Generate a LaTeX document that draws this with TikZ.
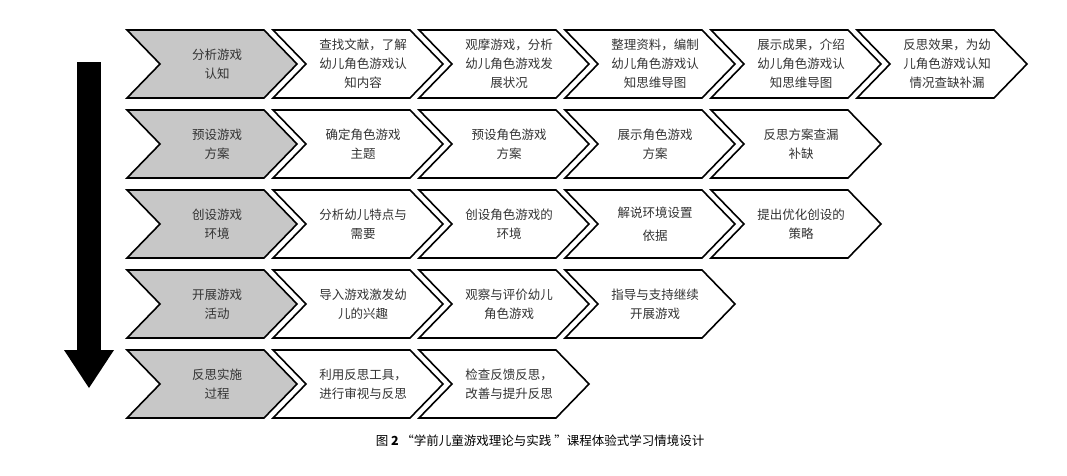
\documentclass[tikz,border=0pt]{standalone}
\usepackage{fontspec}
\setmainfont{Noto Sans CJK SC}
\newfontfamily\capfont{Noto Sans CJK SC}
\tikzset{
  chev/.style={draw=black,line width=1.6pt,line join=miter},
  chevtext/.style={align=center,font=\fontsize{12.5pt}{19pt}\selectfont,text=black!80}
}
% #1 name, #2 left x, #3 top y, #4 fill, #5 text
\newcommand{\chevron}[5]{%
  \filldraw [chev,fill=#4] (#2,#3) -- ++(137,0) -- ++(33,34) -- ++(-33,34) -- ++(-137,0) -- ++(33,-34) -- cycle;
  \node [chevtext] (#1) at (#2+90,#3+34) {#5};
}
\begin{document}
\begin{tikzpicture}[x=1pt,y=-1pt]
\useasboundingbox (0,0) rectangle (1067,476);

% left arrow
\fill [black] (77,62) rectangle (101,352);
\fill [black] (64,350) -- (114,350) -- (89,388) -- cycle;

\chevron{a0}{127}{30}{black!22}{分析游戏\\认知}
\chevron{a1}{273}{30}{white}{查找文献，了解\\幼儿角色游戏认\\知内容}
\chevron{a2}{419}{30}{white}{观摩游戏，分析\\幼儿角色游戏发\\展状况}
\chevron{a3}{565}{30}{white}{整理资料，编制\\幼儿角色游戏认\\知思维导图}
\chevron{a4}{711}{30}{white}{展示成果，介绍\\幼儿角色游戏认\\知思维导图}
\chevron{a5}{857}{30}{white}{反思效果，为幼\\儿角色游戏认知\\情况查缺补漏}

\chevron{b0}{127}{110}{black!22}{预设游戏\\方案}
\chevron{b1}{273}{110}{white}{确定角色游戏\\主题}
\chevron{b2}{419}{110}{white}{预设角色游戏\\方案}
\chevron{b3}{565}{110}{white}{展示角色游戏\\方案}
\chevron{b4}{711}{110}{white}{反思方案查漏\\补缺}

\chevron{c0}{127}{190}{black!22}{创设游戏\\环境}
\chevron{c1}{273}{190}{white}{分析幼儿特点与\\需要}
\chevron{c2}{419}{190}{white}{创设角色游戏的\\环境}
\chevron{c3}{565}{190}{white}{解说环境设置\\[4pt]依据}
\chevron{c4}{711}{190}{white}{提出优化创设的\\策略}

\chevron{d0}{127}{270}{black!22}{开展游戏\\活动}
\chevron{d1}{273}{270}{white}{导入游戏激发幼\\儿的兴趣}
\chevron{d2}{419}{270}{white}{观察与评价幼儿\\角色游戏}
\chevron{d3}{565}{270}{white}{指导与支持继续\\开展游戏}

\chevron{e0}{127}{350}{black!22}{反思实施\\过程}
\chevron{e1}{273}{350}{white}{利用反思工具，\\进行审视与反思}
\chevron{e2}{419}{350}{white}{检查反馈反思，\\改善与提升反思}

\node [font=\capfont\fontsize{12.5pt}{14pt}\selectfont] (caption) at (540,441) {图 \textbf{2} “学前儿童游戏理论与实践 ”课程体验式学习情境设计};
\end{tikzpicture}
\end{document}
